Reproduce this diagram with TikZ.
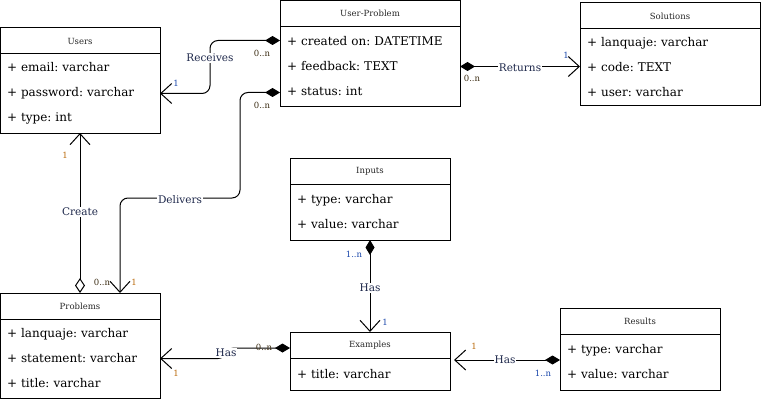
\documentclass[tikz,border=0pt]{standalone}
\usepackage{fontspec}
\setmainfont{DejaVu Serif}
\usetikzlibrary{arrows.meta}
\usetikzlibrary{positioning}

\definecolor{lbldark}{RGB}{30,40,75}
\definecolor{multblue}{RGB}{25,70,170}
\definecolor{multorange}{RGB}{185,105,10}
\definecolor{multdark}{RGB}{60,45,20}

\tikzset{
  classhead/.style={draw, line width=1pt, outer sep=0pt, inner sep=0pt, minimum height=26pt, font=\fontsize{8.5}{10}\selectfont, text=black!85},
  classbody/.style={draw, line width=1pt, outer sep=0pt, inner xsep=7pt, inner ysep=0pt, align=left, font=\fontsize{12}{25}\selectfont\frenchspacing},
  conn/.style={line width=1pt, rounded corners=8pt},
  comp/.style={conn, {Diamond[length=15pt,width=9pt]}-{Straight Barb[length=11pt,width=20pt]}},
  aggr/.style={conn, {Diamond[open,length=15pt,width=10pt]}-{Straight Barb[length=11pt,width=20pt]}},
  elabel/.style={fill=white, inner sep=1pt, text=lbldark, font=\fontsize{10.5}{12}\selectfont},
  mult/.style={inner sep=0pt, font=\fontsize{8.5}{10}\selectfont},
}

\begin{document}
\begin{tikzpicture}[x=1pt,y=-1pt]
    \useasboundingbox (0,0) rectangle (762,401);

    \node[classhead, minimum width=160pt] (users) at (80,41) {Users};
    \node[classbody, text width=146pt, minimum height=79pt, below=0pt of users] (users-body) {+ email: varchar\\+ password: varchar\\+ type: int};

    \node[classhead, minimum width=180pt] (userproblem) at (370,13.5) {User-Problem};
    \node[classbody, text width=166pt, minimum height=80pt, below=0pt of userproblem] (userproblem-body) {+ created on: DATETIME\\+ feedback: TEXT\\+ status: int};

    \node[classhead, minimum width=180pt] (solutions) at (670,16) {Solutions};
    \node[classbody, text width=166pt, minimum height=77pt, below=0pt of solutions] (solutions-body) {+ lanquaje: varchar\\+ code: TEXT\\+ user: varchar};

    \node[classhead, minimum width=160pt] (inputs) at (370,171) {Inputs};
    \node[classbody, text width=146pt, minimum height=56pt, below=0pt of inputs] (inputs-body) {+ type: varchar\\+ value: varchar};

    \node[classhead, minimum width=160pt] (problems) at (80,306) {Problems};
    \node[classbody, text width=146pt, minimum height=79pt, below=0pt of problems] (problems-body) {+ lanquaje: varchar\\+ statement: varchar\\+ title: varchar};

    \node[classhead, minimum width=160pt] (examples) at (370,345) {Examples};
    \node[classbody, text width=146pt, minimum height=32pt, below=0pt of examples] (examples-body) {+ title: varchar};

    \node[classhead, minimum width=160pt] (results) at (640,321) {Results};
    \node[classbody, text width=146pt, minimum height=56pt, below=0pt of results] (results-body) {+ type: varchar\\+ value: varchar};

    \coordinate (delivbend) at (120,198);

    \draw[comp] ([yshift=26pt]userproblem-body.west) -- ++(-70,0) |- (users-body.east);
    \draw[comp] ([yshift=-26pt]userproblem-body.west) -- ++(-40,0) |- (delivbend) -- ([xshift=40pt]problems.north);
    \draw[aggr] (problems.north) -- (users-body.south);
    \draw[comp] (userproblem-body.east) -- (userproblem-body.east -| solutions-body.west);
    \draw[comp] (inputs-body.south) -- (examples.north);
    \draw[comp] ([yshift=-3pt]examples.west) -- ++(-64,0) |- (problems-body.east);
    \draw[comp] ([yshift=2pt]results-body.west) -- ([xshift=4pt,yshift=-15pt]examples.east);

    \node[elabel] (receives) at (210,58) {Receives};
    \node[elabel] (delivers) at (180,200) {Delivers};
    \node[elabel] (create) at (80,212) {Create};
    \node[elabel] (returns) at (520,68) {Returns};
    \node[elabel] (has-inputs) at (370,288) {Has};
    \node[elabel] (has-examples) at (226,353) {Has};
    \node[elabel] (has-results) at (505,360) {Has};

    \node[mult, text=multdark] (m-rcv-up) at (262,53) {0..n};
    \node[mult, text=multblue] (m-rcv-users) at (176,83) {1};
    \node[mult, text=multdark] (m-dlv-up) at (262,105) {0..n};
    \node[mult, text=multorange] (m-dlv-prob) at (134,282) {1};
    \node[mult, text=multdark] (m-crt-prob) at (102,282) {0..n};
    \node[mult, text=multorange] (m-crt-users) at (65,155) {1};
    \node[mult, text=multdark] (m-ret-up) at (472,78) {0..n};
    \node[mult, text=multblue] (m-ret-sol) at (566,55) {1};
    \node[mult, text=multblue] (m-has-inp) at (354,254) {1..n};
    \node[mult, text=multblue] (m-has-ex) at (385,322) {1};
    \node[mult, text=multdark] (m-has-exw) at (264,347) {0..n};
    \node[mult, text=multorange] (m-has-prob) at (176,373) {1};
    \node[mult, text=multorange] (m-has-exe) at (474,346) {1};
    \node[mult, text=multblue] (m-has-res) at (543,373) {1..n};
\end{tikzpicture}
\end{document}
